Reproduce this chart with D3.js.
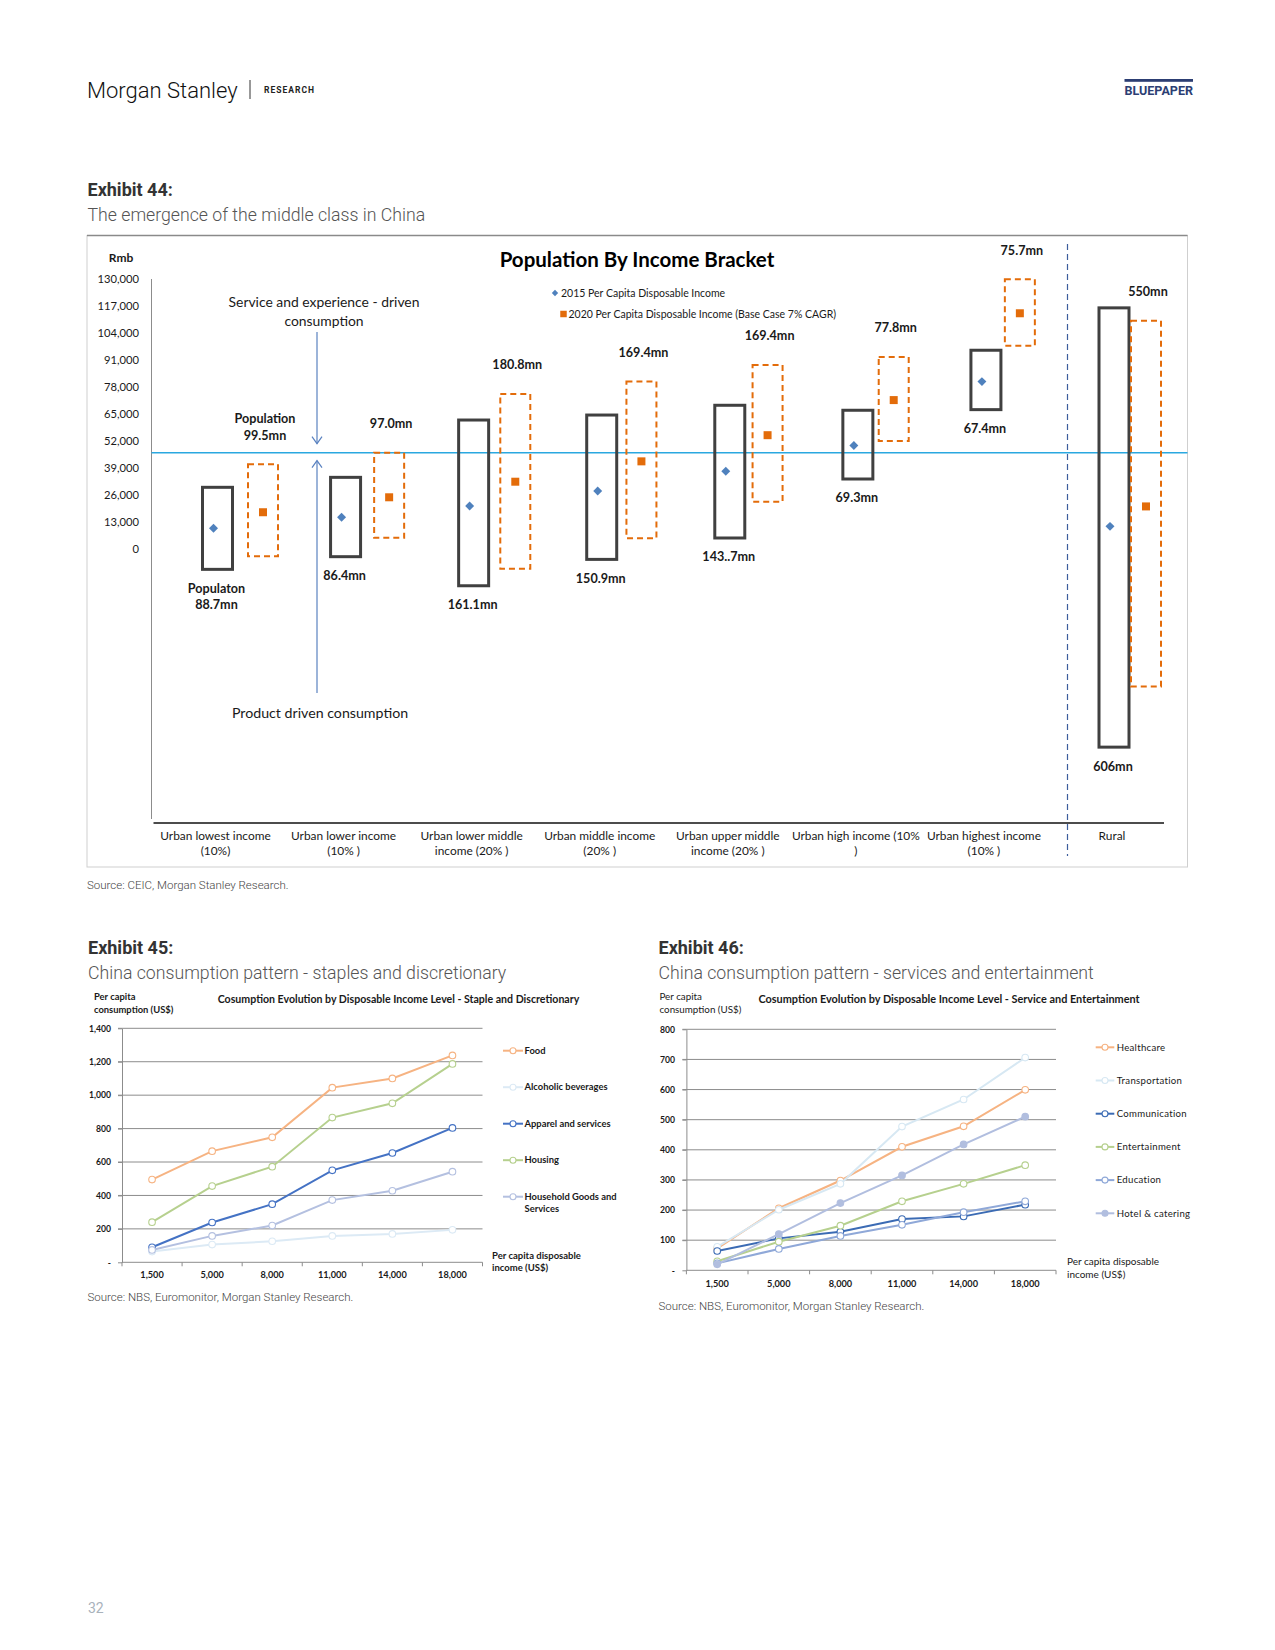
<!DOCTYPE html>
<meta charset="utf-8">

<!-- Load d3.js -->
<script src="https://d3js.org/d3.v7.min.js"></script>

<style>
  body { margin: 0; background: #fff; }
  svg { display: block; }
  .pg { font-family: Roboto, "Noto Sans", sans-serif; }
  .ch { font-family: Lato, "Open Sans", sans-serif; fill: #1a1a1a; }
</style>

<div id="page"></div>

<script>
  // ---------- Exhibit 44 : population by income bracket ----------
  const brackets = ["lowest", "lower", "lowerMiddle", "middle", "upperMiddle", "high", "highest", "rural"];
  const bracketLabels = [
    ["Urban lowest income", "(10%)"],
    ["Urban lower income", "(10% )"],
    ["Urban lower middle", "income (20% )"],
    ["Urban middle income", "(20% )"],
    ["Urban upper middle", "income (20% )"],
    ["Urban high income (10%", ")"],
    ["Urban highest income", "(10% )"],
    ["Rural"]
  ];
  const incomeTicks = [0, 13000, 26000, 39000, 52000, 65000, 78000, 91000, 104000, 117000, 130000];

  // 2015 income range (box) and per capita disposable income (diamond), Rmb
  const income2015High = [29700, 34500, 62100, 64500, 69200, 66800, 95700, 116100];
  const income2015Low  = [-9800, -3700, -17700, -5000, 5300, 33700, 67100, -95400];
  const income2015     = [10000, 15300, 20700, 27900, 37400, 49800, 80600, 10900];
  // 2020 base case (7% CAGR)
  const income2020High = [40800, 46400, 74600, 80600, 88600, 92500, 129900, 109900];
  const income2020Low  = [-3500, 5400, -9500, 5200, 22800, 52000, 97900, -66200];
  const income2020     = [17700, 24900, 32400, 42200, 54800, 71700, 113500, 20500];

  const population2015 = ["Populaton\n88.7mn", "86.4mn", "161.1mn", "150.9mn", "143..7mn", "69.3mn", "67.4mn", "606mn"];
  const population2020 = ["Population\n99.5mn", "97.0mn", "180.8mn", "169.4mn", "169.4mn", "77.8mn", "75.7mn", "550mn"];
  const middleClassLine = 46400;

  // ---------- Exhibits 45 / 46 : consumption by income level ----------
  const incomeLevels = ["1,500", "5,000", "8,000", "11,000", "14,000", "18,000"];

  const food               = [495, 665, 748, 1045, 1100, 1238];
  const alcoholicBeverages = [64, 106, 126, 158, 170, 194];
  const apparel            = [90, 238, 348, 550, 654, 804];
  const housing            = [240, 456, 572, 866, 951, 1187];
  const householdGoods     = [74, 158, 220, 372, 428, 542];
  const staplesTicks = [0, 200, 400, 600, 800, 1000, 1200, 1400];

  const healthcare     = [73, 206, 298, 410, 478, 599];
  const transportation = [78, 201, 287, 477, 567, 706];
  const communication  = [64, 106, 128, 170, 179, 218];
  const entertainment  = [30, 95, 148, 229, 287, 349];
  const education      = [23, 71, 114, 151, 193, 229];
  const hotelCatering  = [20, 120, 223, 315, 418, 510];
  const servicesTicks = [0, 100, 200, 300, 400, 500, 600, 700, 800];

  const svg = d3.select("#page")
    .append("svg")
      .attr("width", 1275)
      .attr("height", 1650);

  // ---------- page header ----------
  svg.append("text").attr("class", "pg")
    .attr("x", 87).attr("y", 90).attr("dy", "0.35em")
    .style("font-size", "22px").style("font-weight", 300).style("fill", "#111")
    .text("Morgan Stanley");
  svg.append("line").attr("x1", 250).attr("x2", 250).attr("y1", 80).attr("y2", 99)
    .attr("stroke", "#333").attr("stroke-width", 1);
  svg.append("text").attr("class", "pg")
    .attr("x", 264).attr("y", 90).attr("dy", "0.35em")
    .style("font-size", "8.5px").style("font-weight", 700).style("letter-spacing", "1px").style("fill", "#222")
    .text("RESEARCH");
  svg.append("rect").attr("x", 1124.5).attr("y", 79).attr("width", 68.5).attr("height", 2.8).attr("fill", "#2c3e73");
  svg.append("text").attr("class", "pg")
    .attr("x", 1124.5).attr("y", 90.5).attr("dy", "0.35em")
    .attr("textLength", 68.5).attr("lengthAdjust", "spacingAndGlyphs")
    .style("font-size", "13px").style("font-weight", 700).style("fill", "#2c3e73")
    .text("BLUEPAPER");

  function exhibitHeading(x, y, title, subtitle) {
    svg.append("text").attr("class", "pg")
      .attr("x", x).attr("y", y).attr("dy", "0.35em")
      .style("font-size", "18px").style("font-weight", 700).style("fill", "#333")
      .text(title);
    svg.append("text").attr("class", "pg")
      .attr("x", x).attr("y", y + 25).attr("dy", "0.35em")
      .style("font-size", "17.7px").style("font-weight", 300).style("fill", "#555")
      .text(subtitle);
  }

  function multiline(sel, lines, lineHeight) {
    lines.forEach((t, k) => {
      sel.append("tspan").attr("x", sel.attr("x")).attr("dy", k === 0 ? "0.35em" : lineHeight).text(t);
    });
  }

  function sourceNote(x, y, text) {
    svg.append("text").attr("class", "pg").attr("x", x).attr("y", y).attr("dy", "0.35em")
      .style("font-size", "11.5px").style("font-weight", 300).style("fill", "#444")
      .text(text);
  }

  exhibitHeading(87.5, 189.5, "Exhibit 44:", "The emergence of the middle class in China");

  // ---------- Exhibit 44 chart ----------
  const frame = {left: 87, right: 1187.5, top: 235.5, bottom: 867};
  svg.append("rect")
    .attr("x", frame.left).attr("y", frame.top)
    .attr("width", frame.right - frame.left).attr("height", frame.bottom - frame.top)
    .attr("fill", "none").attr("stroke", "#cfcfcf");
  svg.append("line").attr("x1", frame.left).attr("x2", frame.right).attr("y1", frame.top).attr("y2", frame.top)
    .attr("stroke", "#8a8a8a").attr("stroke-width", 1.5);

  const baseY = 823;
  const y = d3.scaleLinear().domain([0, 130000]).range([549, 279]);
  const xCat = d3.scalePoint().domain(brackets).range([215.5, 1112]);
  const xProj = d3.scalePoint().domain(brackets).range([263, 1146]);
  const boxW = 30;

  const chart = svg.append("g").attr("class", "ch");

  chart.append("text").attr("x", 121).attr("y", 258).attr("dy", "0.35em")
    .attr("text-anchor", "middle").style("font-size", "12px").style("font-weight", 700).text("Rmb");
  chart.append("text").attr("x", 637).attr("y", 259.5).attr("dy", "0.35em")
    .attr("text-anchor", "middle").style("font-size", "20.5px").style("font-weight", 700).style("fill", "#000")
    .text("Population By Income Bracket");

  // y axis labels (no domain), and the plain axis line
  chart.append("g")
    .attr("transform", "translate(151,0)")
    .call(d3.axisLeft(y).tickValues(incomeTicks).tickSize(0).tickPadding(12).tickFormat(d3.format(",")))
    .call(g => g.select(".domain").remove())
    .call(g => g.selectAll("text").attr("class", "ch").style("font-size", "11.2px").style("font-family", "Lato, sans-serif"));
  chart.append("line").attr("x1", 151.5).attr("x2", 151.5).attr("y1", y(130000)).attr("y2", baseY - 4)
    .attr("stroke", "#8c8c8c");
  chart.append("line").attr("x1", 153.5).attr("x2", 1164).attr("y1", baseY).attr("y2", baseY)
    .attr("stroke", "#111").attr("stroke-width", 1.5);

  // category labels
  chart.selectAll("text.cat").data(brackets).join("text")
    .attr("class", "cat ch")
    .attr("x", d => xCat(d))
    .attr("y", 836)
    .attr("text-anchor", "middle")
    .style("font-size", "11.9px")
    .each(function(d, i) { multiline(d3.select(this), bracketLabels[i], "15.3px"); });

  // middle class threshold line
  chart.append("line")
    .attr("x1", 151.5).attr("x2", frame.right)
    .attr("y1", y(middleClassLine)).attr("y2", y(middleClassLine))
    .attr("stroke", "#2aa8e0").attr("stroke-width", 1.5);

  // urban / rural separator
  chart.append("line").attr("x1", 1067.5).attr("x2", 1067.5).attr("y1", 244).attr("y2", 856)
    .attr("stroke", "#3d5e9c").attr("stroke-width", 1.2).attr("stroke-dasharray", "6,4");

  // 2015 boxes
  chart.selectAll("rect.b2015").data(brackets).join("rect")
    .attr("class", "b2015")
    .attr("x", d => xCat(d) + 2 - boxW / 2)
    .attr("width", boxW)
    .attr("y", (d, i) => y(income2015High[i]))
    .attr("height", (d, i) => y(income2015Low[i]) - y(income2015High[i]))
    .attr("fill", "none").attr("stroke", "#404040").attr("stroke-width", 3);

  // 2020 boxes
  chart.selectAll("rect.b2020").data(brackets).join("rect")
    .attr("class", "b2020")
    .attr("x", d => xProj(d) - boxW / 2)
    .attr("width", boxW)
    .attr("y", (d, i) => y(income2020High[i]))
    .attr("height", (d, i) => y(income2020Low[i]) - y(income2020High[i]))
    .attr("fill", "none").attr("stroke", "#e36c0a").attr("stroke-width", 2).attr("stroke-dasharray", "6,4");

  const diamond = d3.symbol().type(d3.symbolSquare).size(40);
  const square = d3.symbol().type(d3.symbolSquare).size(64);

  chart.selectAll("path.m2015").data(brackets).join("path")
    .attr("d", diamond)
    .attr("transform", (d, i) => `translate(${xCat(d) - 2},${y(income2015[i])}) rotate(45)`)
    .attr("fill", "#4f81bd");

  chart.selectAll("path.m2020").data(brackets).join("path")
    .attr("d", square)
    .attr("transform", (d, i) => `translate(${xProj(d)},${y(income2020[i])})`)
    .attr("fill", "#e36c0a");

  // population labels
  chart.selectAll("text.p2015").data(brackets).join("text")
    .attr("class", "p2015 ch")
    .attr("x", d => xCat(d) + 1)
    .attr("y", (d, i) => y(income2015Low[i]) + 19)
    .attr("text-anchor", "middle")
    .style("font-size", "12.6px").style("font-weight", 700)
    .each(function(d, i) { multiline(d3.select(this), population2015[i].split("\n"), "16.7px"); });

  chart.selectAll("text.p2020").data(brackets).join("text")
    .attr("class", "p2020 ch")
    .attr("x", d => xProj(d) + 2)
    .attr("y", (d, i) => y(income2020High[i]) - 29 - (population2020[i].split("\n").length - 1) * 16.7)
    .attr("text-anchor", "middle")
    .style("font-size", "12.6px").style("font-weight", 700)
    .each(function(d, i) { multiline(d3.select(this), population2020[i].split("\n"), "16.7px"); });

  // legend
  chart.append("path").attr("d", d3.symbol().type(d3.symbolSquare).size(20))
    .attr("transform", "translate(555,293) rotate(45)").attr("fill", "#4f81bd");
  chart.append("text").attr("x", 561).attr("y", 293).attr("dy", "0.35em")
    .style("font-size", "10.5px").text("2015 Per Capita Disposable Income");
  chart.append("path").attr("d", d3.symbol().type(d3.symbolSquare).size(42))
    .attr("transform", "translate(563.5,314)").attr("fill", "#e36c0a");
  chart.append("text").attr("x", 568.5).attr("y", 314).attr("dy", "0.35em")
    .style("font-size", "10.5px").text("2020 Per Capita Disposable Income (Base Case 7% CAGR)");

  // annotations
  chart.append("text").attr("x", 324).attr("y", 302).attr("text-anchor", "middle")
    .style("font-size", "13.9px")
    .call(t => multiline(t, ["Service and experience - driven", "consumption"], "19px"));
  chart.append("text").attr("x", 320).attr("y", 713).attr("dy", "0.35em").attr("text-anchor", "middle")
    .style("font-size", "14.2px").text("Product driven consumption");

  const arrowX = 317;
  const lineY = y(middleClassLine);
  chart.append("line").attr("x1", arrowX).attr("x2", arrowX).attr("y1", 332).attr("y2", lineY - 9)
    .attr("stroke", "#5a82c0").attr("stroke-width", 1.2);
  chart.append("path").attr("d", `M${arrowX - 5},${lineY - 16}L${arrowX},${lineY - 9}L${arrowX + 5},${lineY - 16}`)
    .attr("fill", "none").attr("stroke", "#5a82c0").attr("stroke-width", 1.2);
  chart.append("line").attr("x1", arrowX).attr("x2", arrowX).attr("y1", 693).attr("y2", lineY + 8)
    .attr("stroke", "#5a82c0").attr("stroke-width", 1.2);
  chart.append("path").attr("d", `M${arrowX - 5},${lineY + 15}L${arrowX},${lineY + 8}L${arrowX + 5},${lineY + 15}`)
    .attr("fill", "none").attr("stroke", "#5a82c0").attr("stroke-width", 1.2);

  sourceNote(87, 885, "Source: CEIC, Morgan Stanley Research.");

  // ---------- line charts ----------
  function lineChart(o) {
    const g = svg.append("g").attr("class", "ch");
    const x = d3.scaleBand().domain(incomeLevels).range([o.x0, o.x1]);
    const yS = d3.scaleLinear().domain([0, o.ticks[o.ticks.length - 1]]).range([o.y0, o.y1]);
    const cx = d => x(d) + x.bandwidth() / 2;

    g.selectAll("line.grid").data(o.ticks.slice(1)).join("line")
      .attr("x1", o.x0 - 4).attr("x2", o.x1)
      .attr("y1", d => yS(d)).attr("y2", d => yS(d))
      .attr("stroke", "#8c8c8c");

    g.append("g")
      .attr("transform", `translate(${o.x0},0)`)
      .call(d3.axisLeft(yS).tickValues(o.ticks).tickSize(4).tickSizeOuter(0).tickPadding(o.pad)
        .tickFormat(d => d === 0 ? "-" : d3.format(",")(d)))
      .call(a => a.selectAll("path,line").attr("stroke", "#8c8c8c"))
      .call(a => a.selectAll("text").style("font-family", "Lato, sans-serif").style("font-size", "8.6px")
        .style("font-weight", 700).style("fill", "#1a1a1a"));

    // x axis
    g.append("line").attr("x1", o.x0).attr("x2", o.x1).attr("y1", o.y0).attr("y2", o.y0).attr("stroke", "#8c8c8c");
    g.selectAll("line.xt").data(incomeLevels.map(d => x(d)).concat([o.x1])).join("line")
      .attr("x1", d => d).attr("x2", d => d).attr("y1", o.y0).attr("y2", o.y0 + 4).attr("stroke", "#8c8c8c");
    g.selectAll("text.xl").data(incomeLevels).join("text")
      .attr("x", cx).attr("y", o.y0 + o.xLabelGap).attr("dy", "0.35em").attr("text-anchor", "middle")
      .style("font-size", "9.2px").style("font-weight", 700).text(d => d);

    const line = d3.line().x((d, i) => cx(incomeLevels[i])).y(d => yS(d));
    o.series.forEach(s => {
      g.append("path").datum(s.values).attr("d", line)
        .attr("fill", "none").attr("stroke", s.color).attr("stroke-width", 2);
      g.selectAll(null).data(s.values).join("circle")
        .attr("cx", (d, i) => cx(incomeLevels[i])).attr("cy", d => yS(d)).attr("r", 3.3)
        .attr("fill", s.filled ? s.color : "#fff").attr("stroke", s.color).attr("stroke-width", 1.1);
    });

    // legend
    o.series.forEach((s, i) => {
      const ly = o.legend.y + i * o.legend.step;
      g.append("line").attr("x1", o.legend.x0).attr("x2", o.legend.x1).attr("y1", ly).attr("y2", ly)
        .attr("stroke", s.color).attr("stroke-width", 2);
      g.append("circle").attr("cx", (o.legend.x0 + o.legend.x1) / 2).attr("cy", ly).attr("r", 3)
        .attr("fill", s.filled ? s.color : "#fff").attr("stroke", s.color).attr("stroke-width", 1.1);
      g.append("text").attr("x", o.legend.tx).attr("y", ly)
        .style("font-size", o.legend.size).style("font-weight", o.legend.weight)
        .style("letter-spacing", o.legend.spacing)
        .call(t => multiline(t, s.name.split("\n"), "12px"));
    });

    // titles
    g.append("text").attr("x", o.ylab.x).attr("y", o.ylab.y)
      .style("font-size", o.ylab.size).style("font-weight", o.ylab.weight)
      .call(t => multiline(t, ["Per capita", "consumption (US$)"], "13px"));
    g.append("text").attr("x", o.title.x).attr("y", o.title.y).attr("dy", "0.35em").attr("text-anchor", "middle")
      .style("font-size", o.title.size).style("font-weight", 700).text(o.title.text);
    g.append("text").attr("x", o.xlab.x).attr("y", o.xlab.y)
      .style("font-size", o.xlab.size).style("font-weight", o.xlab.weight)
      .call(t => multiline(t, ["Per capita disposable", "income (US$)"], o.xlab.lh));
  }

  exhibitHeading(88, 947.5, "Exhibit 45:", "China consumption pattern - staples and discretionary");
  lineChart({
    x0: 122, x1: 482.5, y0: 1262.3, y1: 1028.3, pad: 7, xLabelGap: 12.4,
    ticks: staplesTicks,
    series: [
      {name: "Food", values: food, color: "#f6b382"},
      {name: "Alcoholic beverages", values: alcoholicBeverages, color: "#dceaf5"},
      {name: "Apparel and services", values: apparel, color: "#4472c4"},
      {name: "Housing", values: housing, color: "#b6d08e"},
      {name: "Household Goods and\nServices", values: householdGoods, color: "#b4c0e0"}
    ],
    legend: {x0: 503, x1: 523, tx: 524.5, y: 1050.7, step: 36.5, size: "9.4px", weight: 700, spacing: "0px"},
    ylab: {x: 94, y: 997, weight: 700, size: "9.4px"},
    title: {x: 398.5, y: 999.7, size: "10.6px", text: "Cosumption Evolution by Disposable Income Level - Staple and Discretionary"},
    xlab: {x: 492, y: 1256, size: "9.5px", weight: 700, lh: "11.7px"}
  });
  sourceNote(87.5, 1297, "Source: NBS, Euromonitor, Morgan Stanley Research.");

  exhibitHeading(658.5, 947.5, "Exhibit 46:", "China consumption pattern - services and entertainment");
  lineChart({
    x0: 686.4, x1: 1056, y0: 1270.3, y1: 1029.3, pad: 7.4, xLabelGap: 13.4,
    ticks: servicesTicks,
    series: [
      {name: "Healthcare", values: healthcare, color: "#f6b382"},
      {name: "Transportation", values: transportation, color: "#d7e8f3"},
      {name: "Communication", values: communication, color: "#3b6bb4"},
      {name: "Entertainment", values: entertainment, color: "#b6d08e"},
      {name: "Education", values: education, color: "#8fa8d8"},
      {name: "Hotel & catering", values: hotelCatering, color: "#b1bedf", filled: true}
    ],
    legend: {x0: 1095.7, x1: 1114.3, tx: 1116.7, y: 1047.3, step: 33.2, size: "9.6px", weight: 400, spacing: "0.3px"},
    ylab: {x: 659.5, y: 997, weight: 400, size: "9.8px"},
    title: {x: 949, y: 999, size: "10.9px", text: "Cosumption Evolution by Disposable Income Level - Service and Entertainment"},
    xlab: {x: 1067, y: 1261.7, size: "10px", weight: 400, lh: "13px"}
  });
  sourceNote(658.5, 1306, "Source: NBS, Euromonitor, Morgan Stanley Research.");

  // page number
  svg.append("text").attr("class", "pg").attr("x", 88).attr("y", 1608).attr("dy", "0.35em")
    .style("font-size", "14px").style("fill", "#a9b2bb").text("32");
</script>
